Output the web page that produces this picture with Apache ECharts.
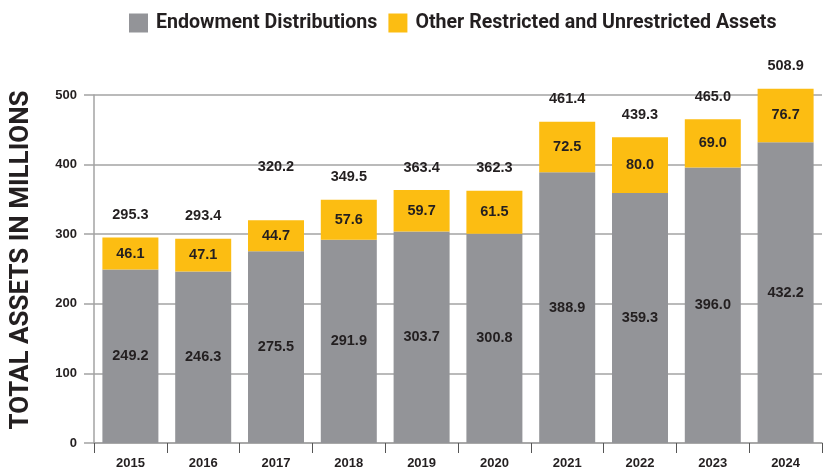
<!DOCTYPE html>
<html>
<head>
<meta charset="utf-8">
<script src="https://cdn.jsdelivr.net/npm/echarts@6/dist/echarts.min.js"></script>
<style>
  html, body { margin: 0; padding: 0; background: #fff; }
  #chart { width: 825px; height: 473px; }
</style>
</head>
<body>
<div id="chart"></div>
<script>
// values (millions)
var years = ['2015', '2016', '2017', '2018', '2019', '2020', '2021', '2022', '2023', '2024'];
var endowment = [249.2, 246.3, 275.5, 291.9, 303.7, 300.8, 388.9, 359.3, 396.0, 432.2];
var otherAssets = [46.1, 47.1, 44.7, 57.6, 59.7, 61.5, 72.5, 80.0, 69.0, 76.7];
var totals = [295.3, 293.4, 320.2, 349.5, 363.4, 362.3, 461.4, 439.3, 465.0, 508.9];
var yTicks = [0, 100, 200, 300, 400, 500];

var GRAY = '#939498';
var YELLOW = '#fcbd12';
var LINE = '#a3a3a3';
var TXT = '#231f20';
var HEAD = "Roboto, 'Liberation Sans', sans-serif";

var oneDecimal = function (p) { return Number(p.value).toFixed(1); };
var labelFont = { fontFamily: 'Liberation Sans', fontWeight: 'bold', fontSize: 14.5, color: TXT };

// total labels sit above each bar; 2017's sits higher in the original
var totalData = totals.map(function (v, i) {
  var item = { value: v };
  if (years[i] === '2017') item.label = { distance: 46 };
  return item;
});

var option = {
  animation: false,
  legend: {
    left: 124,
    top: 8,
    itemWidth: 19,
    itemHeight: 19,
    itemGap: 11,
    icon: 'rect',
    data: ['Endowment Distributions', 'Other Restricted and Unrestricted Assets'],
    textStyle: {
      fontFamily: HEAD,
      fontWeight: 'bold',
      fontSize: 19.6,
      color: TXT,
      padding: [0, 0, 0, 3]
    }
  },
  grid: { left: 93, right: 3, top: 95, bottom: 30 },
  xAxis: {
    type: 'category',
    data: years,
    axisLine: { lineStyle: { color: LINE, width: 1.5 } },
    axisTick: { show: true, length: 10, lineStyle: { color: '#555' } },
    axisLabel: { margin: 14, fontFamily: 'Liberation Sans', fontWeight: 'bold', fontSize: 13, color: TXT }
  },
  yAxis: {
    type: 'value',
    min: yTicks[0],
    max: yTicks[yTicks.length - 1],
    interval: 100,
    name: 'TOTAL ASSETS IN MILLIONS',
    nameLocation: 'middle',
    nameGap: 60,
    nameTextStyle: {
      fontFamily: HEAD,
      fontWeight: 'bold',
      fontSize: 26,
      color: TXT,
      padding: [0, 0, 0, 18]
    },
    axisLine: { show: true, lineStyle: { color: LINE, width: 1.5 } },
    axisTick: { show: true, length: 10, lineStyle: { color: LINE, width: 1.5 } },
    axisLabel: { margin: 17, fontFamily: 'Liberation Sans', fontWeight: 'bold', fontSize: 13, color: TXT },
    splitLine: { lineStyle: { color: LINE, width: 1.5 } }
  },
  series: [
    {
      name: 'Endowment Distributions',
      type: 'bar',
      stack: 'assets',
      barWidth: 56,
      clip: false,
      itemStyle: { color: GRAY },
      label: Object.assign({ show: true, position: 'inside', formatter: oneDecimal }, labelFont),
      data: endowment
    },
    {
      name: 'Other Restricted and Unrestricted Assets',
      type: 'bar',
      stack: 'assets',
      barWidth: 56,
      clip: false,
      itemStyle: { color: YELLOW },
      label: Object.assign({ show: true, position: 'inside', formatter: oneDecimal }, labelFont),
      data: otherAssets
    },
    {
      name: 'Total',
      type: 'bar',
      barWidth: 56,
      barGap: '-100%',
      clip: false,
      z: 1,
      silent: true,
      itemStyle: { color: 'rgba(0,0,0,0)' },
      label: Object.assign({ show: true, position: 'top', distance: 15, formatter: oneDecimal }, labelFont),
      data: totalData
    }
  ]
};

var myChart = echarts.init(document.getElementById('chart'));
myChart.setOption(option);
</script>
</body>
</html>
